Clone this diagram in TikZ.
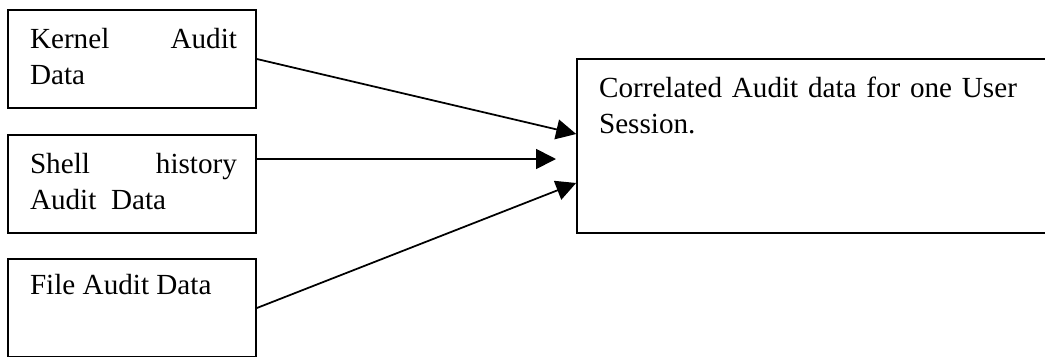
\documentclass[tikz,border=0pt]{standalone}
\usepackage{fontspec}
\setmainfont{Liberation Serif}
\usetikzlibrary{arrows.meta}
\newcommand{\boxfont}{\fontsize{16.6}{20.5}\selectfont\hyphenpenalty=10000\relax\exhyphenpenalty=10000\relax}

\begin{document}
\begin{tikzpicture}[x=0.02cm, y=-0.02cm, line width=1pt,
    >={Triangle[length=0.4cm, width=0.4cm]},
    srcbox/.style={draw, rectangle, minimum width=4.96cm, minimum height=1.96cm},
    srctext/.style={inner sep=0pt, anchor=north west, text width=4.14cm, align=justify,
        font=\boxfont}]
    \useasboundingbox (0,0) rectangle (1045,356);
    \clip (0,0) rectangle (1045,356);

    \node[srcbox] (kernel) at (132,59) {};
    \node[srcbox] (shell) at (132,184) {};
    \node[srcbox] (file) at (132,308) {};
    \node[draw, rectangle, minimum width=9.8cm, minimum height=3.48cm] (session) at (822,146) {};

    \node[srctext] (kerneltxt) at ([shift={(22,18)}]kernel.north west) {Kernel Audit Data};
    \node[srctext] (shelltxt) at ([shift={(22,18)}]shell.north west) {Shell history Audit\ \ Data};
    \node[srctext] (filetxt) at ([shift={(22,15)}]file.north west) {File Audit Data};
    \node[srctext, text width=9cm, align=left] (sessiontxt) at ([shift={(22,18)}]session.north west)
        {Correlated Audit data for one User\\Session.};

    \coordinate (shellend) at (556,159);
    \draw[->] (kernel.east) -- ([yshift=0.24cm]session.west);
    \draw[->] ([yshift=0.5cm]shell.east) -- (shellend);
    \draw[->] (file.east) -- ([yshift=-0.74cm]session.west);
\end{tikzpicture}
\end{document}
